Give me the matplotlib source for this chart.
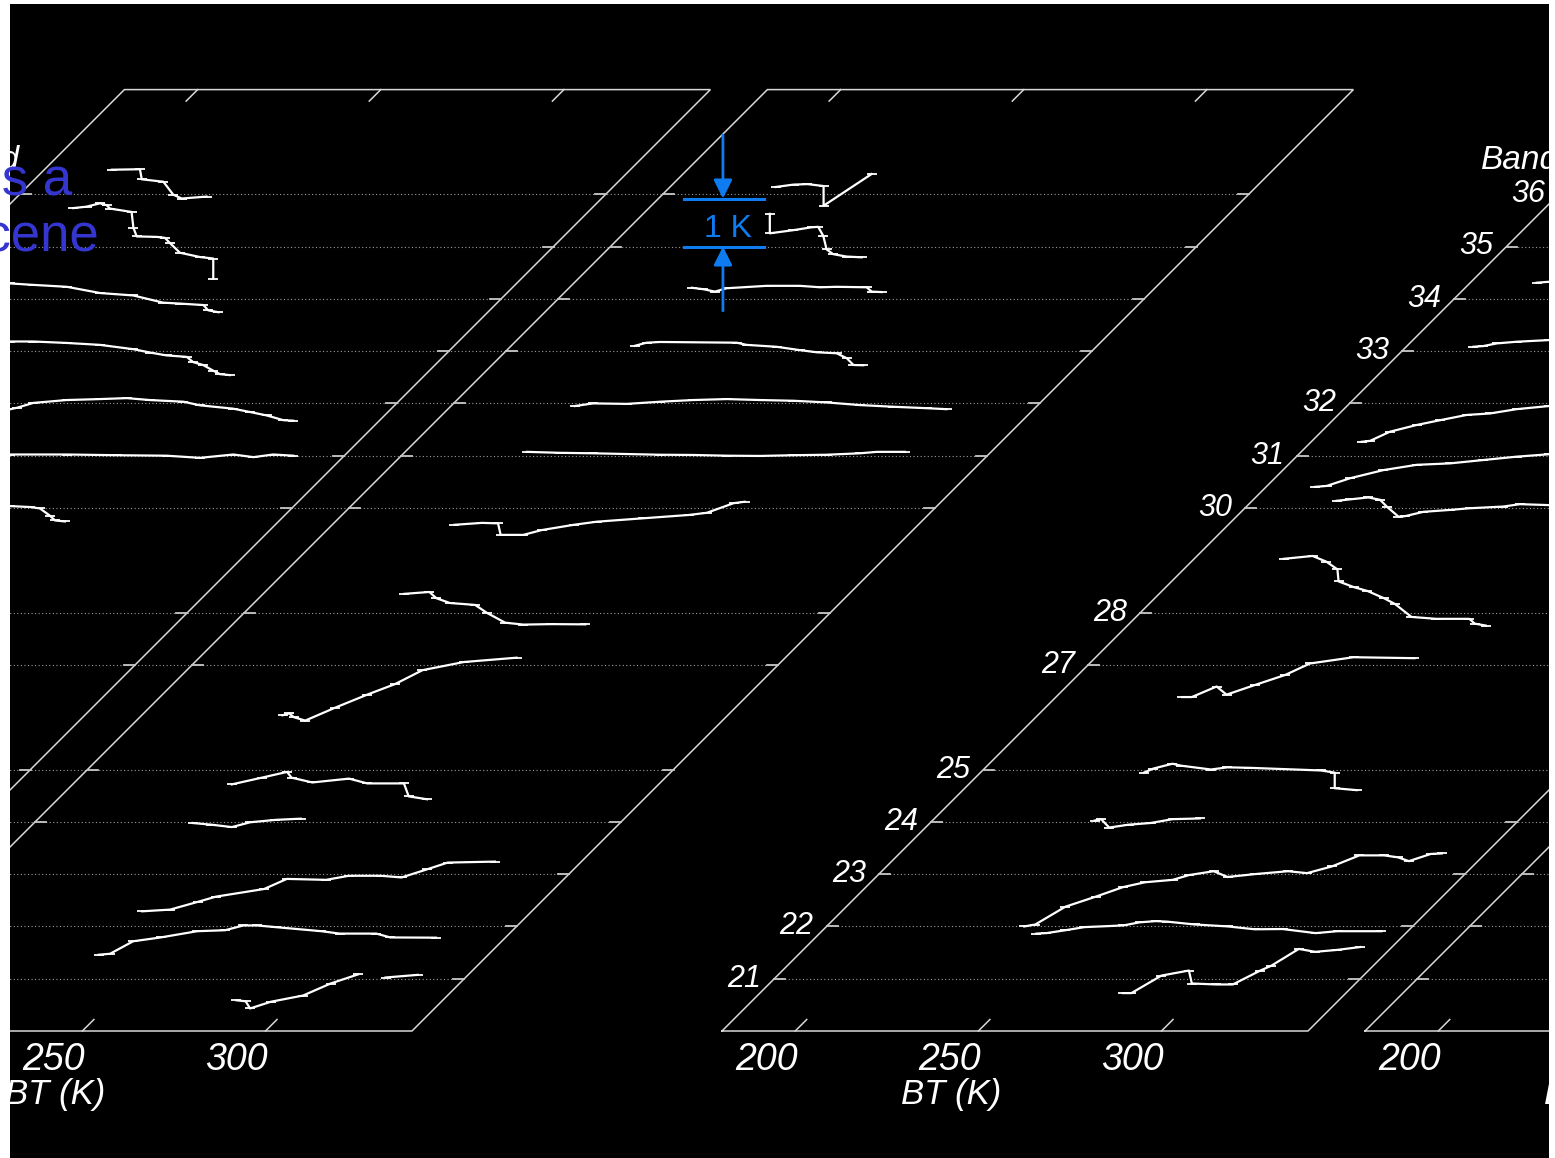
import numpy as np
import matplotlib
matplotlib.use("Agg")
import matplotlib.pyplot as plt
from matplotlib.transforms import Affine2D

# ---------------- data ----------------
BANDS = [21, 22, 23, 24, 25, 27, 28, 30, 31, 32, 33, 34, 35, 36]
BT_TICKS = [200, 250, 300]
BT_MIN, BT_MAX = 180, 340
BAND_NEAR, BAND_FAR = 20, 38

# Panel Z (left-most, mostly off the slide)
z36_bt = [205.1, 212.8, 213.3, 219.2, 221.9, 224.2, 231.0]
z36_dz = [0.51, 0.52, 0.31, 0.26, -0.01, -0.09, -0.05]
z35_bt = [208.9, 212.5, 216.2, 218.0, 218.9, 224.8, 225.3, 226.2, 231.7, 233.9, 235.3, 238.0, 243.5, 247.1, 247.1]
z35_dz = [0.80, 0.83, 0.90, 0.86, 0.79, 0.72, 0.39, 0.21, 0.20, 0.18, 0.07, -0.13, -0.22, -0.25, -0.67]
z34_bt = [200.4, 205.9, 212.2, 221.4, 230.5, 239.5, 247.7, 252.3, 258.7, 260.0, 262.8]
z34_dz = [0.33, 0.32, 0.29, 0.25, 0.12, 0.07, -0.08, -0.10, -0.13, -0.24, -0.28]
z33_bt = [214.7, 220.2, 226.5, 235.6, 244.7, 253.8, 258.4, 262.9, 268.4, 270.2, 272.9, 275.7, 277.5, 280.2]
z33_dz = [0.20, 0.20, 0.20, 0.17, 0.13, 0.04, -0.03, -0.09, -0.12, -0.23, -0.29, -0.41, -0.48, -0.50]
z32_bt = [231.0, 236.4, 240.8, 249.9, 259.0, 266.3, 272.6, 281.8, 286.3, 295.4, 300.0, 304.5, 309.1, 311.8]
z32_dz = [-0.18, -0.09, 0.01, 0.07, 0.09, 0.11, 0.07, 0.035, -0.04, -0.11, -0.18, -0.25, -0.35, -0.36]
z31_bt = [243.3, 248.7, 264.2, 277.9, 291.5, 300.6, 309.7, 315.2, 320.6, 326.1]
z31_dz = [0.025, 0.025, 0.025, 0.01, 0.0, -0.045, 0.025, -0.03, 0.025, 0.0]
z30_bt = [257.5, 263.0, 268.5, 271.2, 273.9, 275.3, 278.0]
z30_dz = [0.05, 0.04, 0.02, -0.01, -0.16, -0.26, -0.28]

# Panel A
a36_bt = [210.8, 215.7, 219.5, 223.9, 223.9, 237.0]
a36_dz = [0.15, 0.20, 0.21, 0.17, -0.24, 0.42]
a35_bt = [223.5, 223.5, 229.9, 234.9, 236.7, 238.1, 239.0, 240.8, 244.5, 248.6]
a35_dz = [0.68, 0.275, 0.34, 0.40, 0.41, 0.22, -0.06, -0.16, -0.21, -0.225]
a34_bt = [216.5, 219.6, 222.8, 226.0, 236.9, 246.0, 251.5, 256.0, 264.2, 265.6, 268.3]
a34_dz = [0.23, 0.20, 0.15, 0.22, 0.27, 0.27, 0.24, 0.25, 0.24, 0.15, 0.14]
a33_bt = [215.2, 218.4, 222.1, 243.0, 245.7, 253.9, 260.3, 264.9, 270.3, 273.1, 274.9, 277.6]
a33_dz = [0.11, 0.175, 0.19, 0.175, 0.13, 0.09, 0.02, -0.025, -0.045, -0.15, -0.29, -0.295]
a32_bt = [213.1, 218.1, 227.3, 236.4, 245.4, 254.6, 263.7, 272.8, 281.9, 291.0, 300.1, 309.2, 314.6]
a32_dz = [-0.055, 0.0, -0.01, 0.035, 0.07, 0.09, 0.07, 0.055, 0.02, -0.035, -0.07, -0.10, -0.12]
a31_bt = [214.3, 223.3, 232.4, 241.5, 250.6, 259.7, 268.8, 277.9, 287.0, 296.1, 305.2, 309.8, 317.5]
a31_dz = [0.08, 0.06, 0.05, 0.035, 0.02, 0.015, 0.0, -0.005, 0.01, 0.02, 0.05, 0.08, 0.08]
a30_bt = [208.8, 216.3, 220.7, 221.4, 227.6, 232.6, 241.4, 247.7, 260.2, 272.8, 277.7, 285.0, 288.0]
a30_dz = [-0.35, -0.31, -0.32, -0.56, -0.56, -0.46, -0.35, -0.285, -0.215, -0.145, -0.10, 0.10, 0.13]
a28_bt = [223.6, 230.5, 232.4, 236.1, 243.0, 246.2, 251.2, 256.2, 263.7, 273.1]
a28_dz = [0.39, 0.43, 0.30, 0.20, 0.16, -0.005, -0.21, -0.25, -0.24, -0.245]
a27_bt = [204.7, 206.5, 207.8, 210.9, 219.1, 227.8, 235.4, 242.9, 254.2, 268.6]
a27_dz = [-1.05, -1.01, -1.09, -1.16, -0.89, -0.62, -0.40, -0.11, 0.06, 0.15]
a25_bt = [219.4, 227.6, 234.5, 235.7, 241.4, 251.4, 256.4, 266.4, 267.7, 272.7]
a25_dz = [-0.31, -0.17, -0.05, -0.17, -0.27, -0.19, -0.29, -0.29, -0.56, -0.62]
a24_bt = [223.0, 228.1, 233.7, 238.7, 245.6, 252.5]
a24_dz = [-0.025, -0.06, -0.11, -0.01, 0.04, 0.065]
a23_bt = [223.5, 231.1, 238.6, 243.6, 256.8, 263.0, 273.7, 279.9, 288.7, 294.3, 301.3, 306.9, 319.8]
a23_dz = [-0.775, -0.74, -0.58, -0.47, -0.31, -0.10, -0.12, -0.035, -0.035, -0.07, 0.10, 0.24, 0.26]
a22_bt = [225.9, 229.0, 235.3, 242.8, 252.8, 260.4, 265.4, 269.1, 274.2, 286.7, 291.7, 301.7, 305.5, 318.0]
a22_dz = [-0.59, -0.57, -0.31, -0.23, -0.10, -0.08, 0.02, 0.02, -0.015, -0.10, -0.15, -0.15, -0.23, -0.235]
a21_bt = [277.8, 280.3, 281.5, 287.2, 296.0, 303.5, 311.0, np.nan, 318.5, 327.3]
a21_dz = [-0.45, -0.47, -0.62, -0.48, -0.35, -0.10, 0.09, np.nan, 0.025, 0.08]

# Panel B
b34_bt = [202.5, 205.9, 219.8]
b34_dz = [0.335, 0.355, 0.36]
b33_bt = [199.5, 202.2, 205.9, 211.3, 220.2, 234.0]
b33_dz = [0.09, 0.105, 0.16, 0.195, 0.23, 0.25]
b32_bt = [183.3, 185.6, 191.0, 198.3, 204.7, 212.0, 218.3, 225.6, 234.4, 248.4]
b32_dz = [-0.80, -0.78, -0.59, -0.45, -0.35, -0.24, -0.21, -0.12, -0.055, 0.0]
b31_bt = [184.8, 188.0, 194.4, 203.5, 212.6, 221.7, 230.8, 239.9, 248.7, 262.6]
b31_dz = [-0.65, -0.63, -0.47, -0.30, -0.19, -0.16, -0.09, -0.02, 0.03, 0.05]
b30_bt = [205.0, 208.7, 213.7, 216.9, 218.7, 221.9, 223.7, 228.7, 236.0, 241.4, 250.5, 255.1, 263.0, 276.9]
b30_dz = [0.15, 0.18, 0.22, 0.17, 0.03, -0.18, -0.17, -0.08, -0.04, -0.005, 0.03, 0.08, 0.06, 0.05]
b28_bt = [219.1, 227.0, 230.8, 233.8, 234.1, 238.3, 242.0, 246.5, 249.5, 254.0, 260.8, 269.8, 271.3, 274.3]
b28_dz = [1.12, 1.18, 1.06, 0.90, 0.65, 0.53, 0.45, 0.30, 0.18, -0.09, -0.13, -0.13, -0.23, -0.27]
b27_bt = [205.7, 208.3, 215.1, 217.8, 225.5, 233.8, 240.6, 252.5, 269.1]
b27_dz = [-0.67, -0.67, -0.45, -0.62, -0.42, -0.21, 0.03, 0.16, 0.14]
b25_bt = [223.8, 226.4, 231.6, 233.9, 242.1, 246.6, 252.6, 272.1, 275.9, 275.9, 281.9]
b25_dz = [-0.065, 0.02, 0.12, 0.08, 0.0, 0.045, 0.035, -0.02, -0.065, -0.39, -0.43]
b24_bt = [224.6, 226.4, 228.6, 233.9, 239.9, 245.9, 253.4]
b24_dz = [0.025, 0.055, -0.12, -0.06, -0.025, 0.055, 0.07]
b23_bt = [219.7, 222.7, 230.9, 239.2, 246.7, 252.7, 260.2, 264.7, 271.4, 275.2, 282.7, 291.7, 296.9, 303.7,
          311.2, 317.9, 321.7, 324.7, 330.7, 333.7]
b23_dz = [-1.09, -1.05, -0.68, -0.47, -0.27, -0.17, -0.12, -0.02, 0.06, -0.06, 0.0, 0.06, 0.02, 0.16,
          0.39, 0.39, 0.35, 0.27, 0.42, 0.43]
b22_bt = [237.3, 240.0, 245.2, 250.4, 261.0, 265.5, 269.9, 272.9, 280.5, 289.5, 296.9, 304.5, 313.5, 319.5, 331.5]
b22_dz = [-0.15, -0.14, -0.08, -0.015, 0.02, 0.085, 0.11, 0.10, 0.04, 0.0, -0.06, -0.055, -0.14, -0.10, -0.10]
b21_bt = [275.2, 277.5, 285.7, 293.2, 294.0, 300.7, 305.2, 312.7, 315.7, 323.2, 327.7, 333.7, 340.0]
b21_dz = [-0.30, -0.30, 0.065, 0.17, -0.10, -0.12, -0.12, 0.17, 0.27, 0.62, 0.56, 0.60, 0.66]

TRACES = [
    ("Z", 36, z36_bt, z36_dz), ("Z", 35, z35_bt, z35_dz), ("Z", 34, z34_bt, z34_dz),
    ("Z", 33, z33_bt, z33_dz), ("Z", 32, z32_bt, z32_dz), ("Z", 31, z31_bt, z31_dz),
    ("Z", 30, z30_bt, z30_dz),
    ("A", 36, a36_bt, a36_dz), ("A", 35, a35_bt, a35_dz), ("A", 34, a34_bt, a34_dz),
    ("A", 33, a33_bt, a33_dz), ("A", 32, a32_bt, a32_dz), ("A", 31, a31_bt, a31_dz),
    ("A", 30, a30_bt, a30_dz), ("A", 28, a28_bt, a28_dz), ("A", 27, a27_bt, a27_dz),
    ("A", 25, a25_bt, a25_dz), ("A", 24, a24_bt, a24_dz), ("A", 23, a23_bt, a23_dz),
    ("A", 22, a22_bt, a22_dz), ("A", 21, a21_bt, a21_dz),
    ("B", 34, b34_bt, b34_dz), ("B", 33, b33_bt, b33_dz), ("B", 32, b32_bt, b32_dz),
    ("B", 31, b31_bt, b31_dz), ("B", 30, b30_bt, b30_dz), ("B", 28, b28_bt, b28_dz),
    ("B", 27, b27_bt, b27_dz), ("B", 25, b25_bt, b25_dz), ("B", 24, b24_bt, b24_dz),
    ("B", 23, b23_bt, b23_dz), ("B", 22, b22_bt, b22_dz), ("B", 21, b21_bt, b21_dz),
]

# scale bar (1 K) drawn in panel A at band 35
SCALE_BT = [200.0, 222.0]
SCALE_ARROW_BT = 210.7

# ---------------- layout ----------------
W, H = 1555, 1158
SX = 586.0 / 160.0   # px per K along the BT axis
SB = 52.3            # px per band step (45 degree depth axis)
KZ = 48.0            # px per K of vertical deviation
Y20 = 1031.0         # pixel row of the near edge
PANEL_X0 = {"Z": -817.0, "A": -174.0, "B": 722.0, "C": 1365.0}
LABELLED = {"Z", "B"}
PAIR_LEFT = {"Z", "B"}
BLUE = "#0f7bf0"
SLIDE_BLUE = "#3535cf"
EDGE = "#d8d8d8"
GRID = "#9c9c9c"
LBL_FONT = ["Liberation Sans Narrow", "Liberation Sans", "DejaVu Sans"]

fig = plt.figure(figsize=(W / 100, H / 100), dpi=100, facecolor="white")
ax = fig.add_axes([10 / W, 0, (1549 - 10) / W, 1154 / H])
ax.set_facecolor("black")
ax.set_xlim(10, 1549)
ax.set_ylim(1158, 4)
ax.set_xticks([])
ax.set_yticks([])
for sp in ax.spines.values():
    sp.set_visible(False)


def floor_tr(x0):
    """(BT, band) -> slide pixels, oblique projection."""
    m = np.array([[SX, SB, x0 - BT_MIN * SX - BAND_NEAR * SB],
                  [0.0, -SB, Y20 + BAND_NEAR * SB],
                  [0.0, 0.0, 1.0]])
    return Affine2D(m) + ax.transData


def row_tr(x0, band):
    """(BT, deviation K) -> slide pixels for one band row."""
    return (Affine2D().scale(SX, -KZ)
            .translate(x0 - BT_MIN * SX + (band - BAND_NEAR) * SB,
                       Y20 - (band - BAND_NEAR) * SB) + ax.transData)


for key, x0 in PANEL_X0.items():
    tr = floor_tr(x0)
    # floor outline
    ax.plot([BT_MIN, BT_MAX, BT_MAX, BT_MIN, BT_MIN],
            [BAND_NEAR, BAND_NEAR, BAND_FAR, BAND_FAR, BAND_NEAR],
            transform=tr, color=EDGE, lw=1.1, solid_joinstyle="miter")
    # BT ticks on near and far edges
    for t in BT_TICKS:
        ax.plot([t, t], [BAND_NEAR, BAND_NEAR + 0.22], transform=tr, color=EDGE, lw=1.1)
        ax.plot([t, t], [BAND_FAR, BAND_FAR - 0.22], transform=tr, color=EDGE, lw=1.1)
        ax.text(t, 19.45, str(t), transform=tr, ha="center", va="center", color="white",
                fontsize=27, style="italic", family=LBL_FONT, clip_on=True)
    ax.text(260, 18.78, "BT (K)", transform=tr, ha="center", va="center", color="white",
            fontsize=25, style="italic", family=LBL_FONT, clip_on=True)
    # band grid lines + end ticks
    grid_end = BT_MAX + (57.0 / SX if key in PAIR_LEFT else 0.0)
    for b in BANDS:
        ax.plot([BT_MIN, grid_end], [b, b], transform=tr, color=GRID, lw=0.8,
                linestyle=(0, (1, 2.2)))
        ax.plot([BT_MIN, BT_MIN + 3], [b, b], transform=tr, color="#c8c8c8", lw=1.3)
        ax.plot([BT_MAX - 3, BT_MAX], [b, b], transform=tr, color="#c8c8c8", lw=1.3)
        if key in LABELLED:
            ax.text(171.8, b, str(b), transform=tr, ha="center", va="center", color="white",
                    fontsize=22, style="italic", family=LBL_FONT, clip_on=True)
    if key in LABELLED:
        ax.text(160, 36.65, "Band", transform=tr, ha="center", va="center", color="white",
                fontsize=24, style="italic", family=LBL_FONT, clip_on=True)

# traces
for key, band, bt, dz in TRACES:
    ax.plot(bt, dz, transform=row_tr(PANEL_X0[key], band), color="white", lw=1.6,
            marker="_", ms=7, mew=1.3, solid_joinstyle="round")

# 1 K scale bar (panel A, band 35)
str_ = row_tr(PANEL_X0["A"], 35)
ax.plot(SCALE_BT, [1, 1], transform=str_, color=BLUE, lw=2.2)
ax.plot(SCALE_BT, [0, 0], transform=str_, color=BLUE, lw=2.2)
arrow = dict(arrowstyle="-|>,head_length=0.8,head_width=0.4", mutation_scale=14,
             color=BLUE, lw=2.0, shrinkA=0, shrinkB=0)
ax.annotate("", xy=(SCALE_ARROW_BT, 1.0), xytext=(SCALE_ARROW_BT, 2.32),
            xycoords=str_, textcoords=str_, arrowprops=arrow)
ax.annotate("", xy=(SCALE_ARROW_BT, 0.0), xytext=(SCALE_ARROW_BT, -1.34),
            xycoords=str_, textcoords=str_, arrowprops=arrow)
ax.text(212.1, 0.365, "1 K", transform=str_, ha="center", va="center", color=BLUE,
        fontsize=23, family=["Liberation Sans", "DejaVu Sans"])

# slide title text (mostly cut off at the left edge of the slide)
fig.text(72 / W, 1 - 195 / H, "This is a", ha="right", va="baseline", color=SLIDE_BLUE,
         fontsize=38, family=["Liberation Sans", "DejaVu Sans"])
fig.text(99 / W, 1 - 252 / H, "scene", ha="right", va="baseline", color=SLIDE_BLUE,
         fontsize=38, family=["Liberation Sans", "DejaVu Sans"])

fig.savefig("out.png", dpi=100, facecolor="white")
